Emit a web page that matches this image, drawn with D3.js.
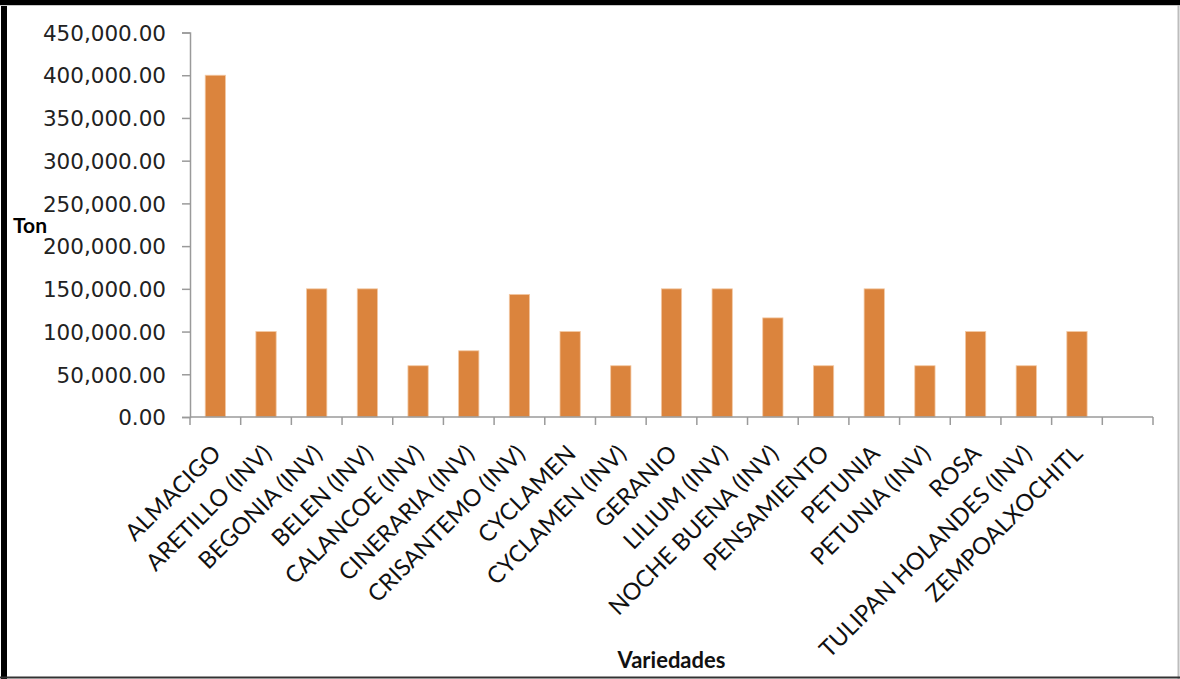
<!DOCTYPE html>
<html>
<head>
<meta charset="utf-8">
<script src="https://cdn.jsdelivr.net/npm/d3@7"></script>
<style>
  html, body { margin: 0; padding: 0; background: #fff; }
  svg { display: block; }
</style>
</head>
<body>
<script>
const categories = ["ALMACIGO", "ARETILLO (INV)", "BEGONIA (INV)", "BELEN (INV)", "CALANCOE (INV)",
  "CINERARIA (INV)", "CRISANTEMO (INV)", "CYCLAMEN", "CYCLAMEN (INV)", "GERANIO", "LILIUM (INV)",
  "NOCHE BUENA (INV)", "PENSAMIENTO", "PETUNIA", "PETUNIA (INV)", "ROSA", "TULIPAN HOLANDES (INV)",
  "ZEMPOALXOCHITL", ""];
const values = [400000, 100000, 150000, 150000, 60000, 77500, 143500, 100000, 60000, 150000,
  150000, 116000, 60000, 150000, 60000, 100000, 60000, 100000, null];
const yTicks = [0, 50000, 100000, 150000, 200000, 250000, 300000, 350000, 400000, 450000];
const yTitle = "Ton";
const xTitle = "Variedades";

const W = 1180, H = 679;
const plot = { left: 190, right: 1153, top: 32.5, bottom: 417 };

const svg = d3.select("body").append("svg").attr("width", W).attr("height", H);

// Frame
svg.append("rect").attr("x", 0).attr("y", 0).attr("width", W).attr("height", H).attr("fill", "#fff");
svg.append("rect").attr("x", 1).attr("y", 0).attr("width", 6).attr("height", H).attr("fill", "#000");
svg.append("rect").attr("x", 0).attr("y", 0).attr("width", W).attr("height", 5).attr("fill", "#000");
svg.append("line").attr("x1", 0).attr("x2", W).attr("y1", 5.5).attr("y2", 5.5).attr("stroke", "#c8c8c8").attr("stroke-width", 1);
svg.append("line").attr("x1", 1178.5).attr("x2", 1178.5).attr("y1", 5).attr("y2", H).attr("stroke", "#bdbdbd").attr("stroke-width", 2);
svg.append("line").attr("x1", 0).attr("x2", W).attr("y1", 677.5).attr("y2", 677.5).attr("stroke", "#333").attr("stroke-width", 2);

const x = d3.scaleBand().domain(d3.range(categories.length)).range([plot.left, plot.right]).paddingInner(0).paddingOuter(0);
const y = d3.scaleLinear().domain([0, 450000]).range([plot.bottom, plot.top]);

const axisColor = "#9a9a9a";
const fmt = d3.format(",.2f");

// Y axis
const yAxis = svg.append("g").attr("transform", `translate(${plot.left},0)`)
  .call(d3.axisLeft(y).tickValues(yTicks).tickSize(8).tickPadding(16).tickFormat(fmt));
yAxis.select(".domain").attr("stroke", axisColor).attr("stroke-width", 1.5);
yAxis.selectAll(".tick line").attr("stroke", axisColor).attr("stroke-width", 1.5);
yAxis.selectAll(".tick text").attr("fill", "#222").attr("font-family", "DejaVu Sans")
  .attr("font-size", 21.5).attr("dy", "0.36em");

// Bars
const bw = x.bandwidth() * 0.4;
svg.append("g").selectAll("rect").data(values.map((v, i) => ({ v, i })).filter(d => d.v != null))
  .enter().append("rect")
  .attr("x", d => x(d.i) + (x.bandwidth() - bw) / 2)
  .attr("y", d => y(d.v))
  .attr("width", bw)
  .attr("height", d => y(0) - y(d.v))
  .attr("fill", "#db843d")
  .attr("stroke", "#f3c9a4")
  .attr("stroke-width", 0.8);

// X axis
const boundaries = d3.range(categories.length + 1).map(i => plot.left + i * x.bandwidth());
const xg = svg.append("g");
xg.append("line").attr("x1", plot.left).attr("x2", plot.right).attr("y1", plot.bottom).attr("y2", plot.bottom)
  .attr("stroke", axisColor).attr("stroke-width", 1.5);
xg.selectAll("line.t").data(boundaries).enter().append("line").attr("class", "t")
  .attr("x1", d => d).attr("x2", d => d).attr("y1", plot.bottom).attr("y2", plot.bottom + 8)
  .attr("stroke", axisColor).attr("stroke-width", 1.5);

// Category labels
xg.selectAll("text").data(categories).enter().append("text")
  .attr("transform", (d, i) => `translate(${x(i) + x.bandwidth() / 2 + 7},${plot.bottom + 38}) rotate(-45)`)
  .attr("text-anchor", "end")
  .attr("font-family", "Lato")
  .attr("font-size", 23.5)
  .attr("fill", "#111")
  .text(d => d);

// Titles
svg.append("text").attr("x", 13).attr("y", 233).attr("font-family", "Lato").attr("font-weight", "bold")
  .attr("font-size", 21).attr("fill", "#000").text(yTitle);
svg.append("text").attr("x", (plot.left + plot.right) / 2).attr("y", 668).attr("text-anchor", "middle")
  .attr("font-family", "Lato").attr("font-weight", "bold").attr("font-size", 22).attr("fill", "#111").text(xTitle);
</script>
</body>
</html>
